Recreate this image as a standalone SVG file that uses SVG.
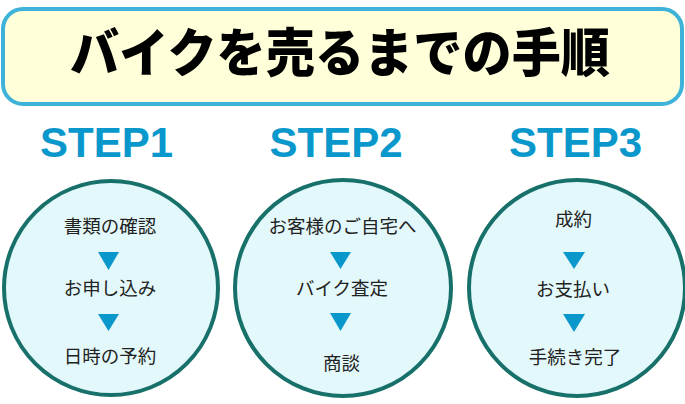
<svg xmlns="http://www.w3.org/2000/svg" width="685" height="404" viewBox="0 0 685 404">
<style>
.title{font-family:"Noto Sans CJK JP","Noto Sans",sans-serif;font-weight:900;font-size:52px;fill:#000;text-anchor:middle}
.step{font-family:"Liberation Sans",Arial,sans-serif;font-weight:bold;font-size:42px;fill:#0a98cc;text-anchor:middle}
.circ{fill:#e3f8fa;stroke:#17706a;stroke-width:4}
.lbl{font-family:"Noto Sans CJK JP","Noto Sans",sans-serif;font-size:18.5px;fill:#222;text-anchor:middle}
.tri{fill:#0a98cc}
</style>
<rect width="685" height="404" fill="#fff"/>
<g id="title">
<rect x="3" y="9" width="679" height="95" rx="20" ry="20" fill="#ffffd9" stroke="#3fb2da" stroke-width="4"/>
<text class="title" x="340" y="72" textLength="540" lengthAdjust="spacingAndGlyphs">バイクを売るまでの手順</text>
</g>
<g id="step1">
<text class="step" x="106.5" y="157">STEP1</text>
<circle class="circ" cx="111" cy="288" r="107"/>
<text class="lbl" x="110" y="233">書類の確認</text>
<text class="lbl" x="110" y="295">お申し込み</text>
<text class="lbl" x="110" y="363">日時の予約</text>
</g>
<g id="step2">
<text class="step" x="336" y="157">STEP2</text>
<circle class="circ" cx="343" cy="288" r="108"/>
<text class="lbl" x="342.5" y="233">お客様のご自宅へ</text>
<text class="lbl" x="342" y="295">バイク査定</text>
<text class="lbl" x="341.5" y="370">商談</text>
</g>
<g id="step3">
<text class="step" x="575.5" y="157">STEP3</text>
<circle class="circ" cx="577" cy="288" r="108"/>
<text class="lbl" x="573.5" y="226">成約</text>
<text class="lbl" x="573" y="296">お支払い</text>
<text class="lbl" x="575" y="364">手続き完了</text>
</g>
<g id="connectors">
<polygon class="tri" points="98,252 119,252 108.5,270"/>
<polygon class="tri" points="98,314 119,314 108.5,331"/>
<polygon class="tri" points="330,252 351,252 340.5,269"/>
<polygon class="tri" points="330,313 351,313 340.5,331"/>
<polygon class="tri" points="563,252 585,252 574,269"/>
<polygon class="tri" points="563,314 585,314 574,332"/>
</g>
</svg>
